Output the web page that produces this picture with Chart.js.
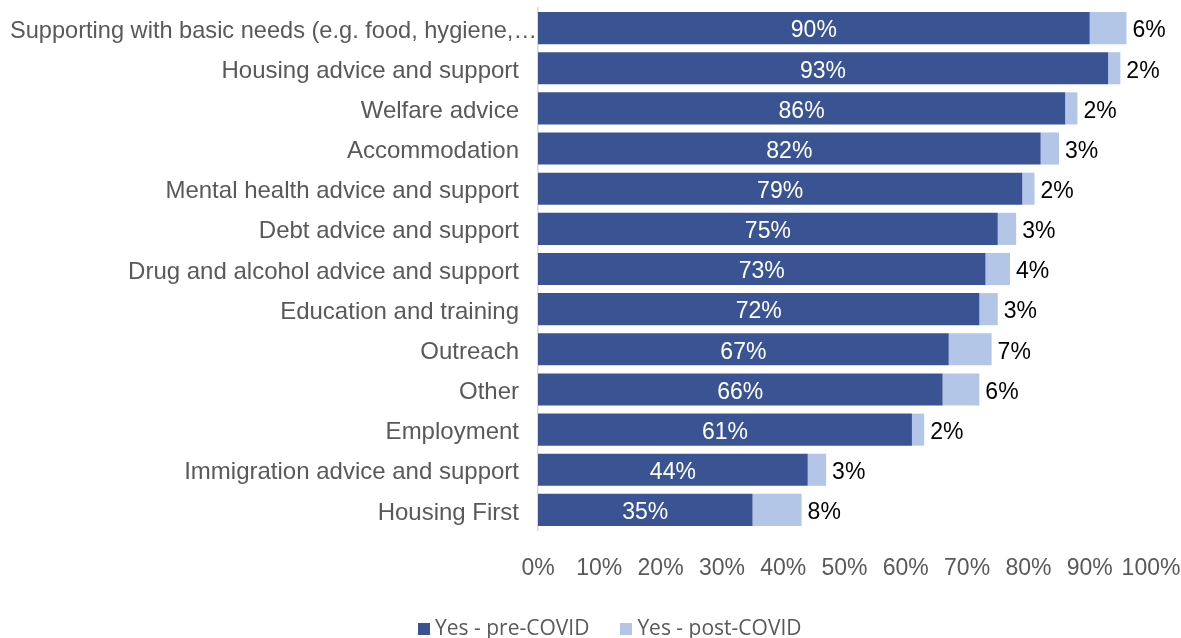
<!DOCTYPE html>
<html>
<head>
<meta charset="utf-8">
<script src="https://cdn.jsdelivr.net/npm/chart.js@4/dist/chart.umd.min.js"></script>
<style>
  html, body { margin: 0; padding: 0; background: #fff; }
  #wrap { position: relative; width: 1181px; height: 638px; overflow: hidden; }
  #chart { position: absolute; left: 0; top: 0; }
  .legend { position: absolute; left: 418px; top: 613px; font: 21px "Open Sans", sans-serif; color: #595959; white-space: nowrap; line-height: 28px; }
  .legend .item { display: inline-block; margin-right: 31px; }
  .legend .sw { display: inline-block; width: 12px; height: 12px; margin-right: 5px; vertical-align: 0px; }
</style>
</head>
<body>
<div id="wrap">
  <canvas id="chart" width="1181" height="638"></canvas>
  <div class="legend">
    <span class="item"><span class="sw" style="background:#3a5493"></span>Yes - pre-COVID</span><span class="item"><span class="sw" style="background:#b4c6e7"></span>Yes - post-COVID</span>
  </div>
</div>
<script>
(function () {
  'use strict';

  var categories = [
    'Supporting with basic needs (e.g. food, hygiene,\u2026',
    'Housing advice and support',
    'Welfare advice',
    'Accommodation',
    'Mental health advice and support',
    'Debt advice and support',
    'Drug and alcohol advice and support',
    'Education and training',
    'Outreach',
    'Other',
    'Employment',
    'Immigration advice and support',
    'Housing First'
  ];
  var preCovid = [90, 93, 86, 82, 79, 75, 73, 72, 67, 66, 61, 44, 35];
  var postCovid = [6, 2, 2, 3, 2, 3, 4, 3, 7, 6, 2, 3, 8];
  var seriesNames = ['Yes - pre-COVID', 'Yes - post-COVID'];

  var colors = {
    pre: '#3a5493',
    post: '#b4c6e7',
    text: '#595959',
    axis: '#d9d9d9'
  };

  var FONT = '"Liberation Sans", Arial, Helvetica, sans-serif';
  Chart.defaults.font.family = FONT;

  // category names, drawn by hand so the truncated first one can run up to the axis
  var categoryLabels = {
    id: 'categoryLabels',
    afterDraw: function (chart) {
      var scale = chart.scales.y;
      var ctx = chart.ctx;
      ctx.save();
      ctx.font = '24px ' + FONT;
      ctx.fillStyle = colors.text;
      ctx.textAlign = 'right';
      ctx.textBaseline = 'middle';
      categories.forEach(function (name, i) {
        var truncated = name.slice(-1) === '\u2026';
        var right = truncated ? scale.right - 1 : scale.right - 19;
        ctx.fillText(name, right, scale.getPixelForTick(i) + 3, right - 10);
      });
      ctx.restore();
    }
  };

  // value labels: white inside the dark segment, black just past the light one
  var barLabels = {
    id: 'barLabels',
    afterDatasetsDraw: function (chart) {
      var ctx = chart.ctx;
      ctx.save();
      ctx.font = '23px ' + FONT;
      ctx.textBaseline = 'middle';
      chart.getDatasetMeta(0).data.forEach(function (bar, i) {
        ctx.fillStyle = '#ffffff';
        ctx.textAlign = 'center';
        ctx.fillText(preCovid[i] + '%', (bar.x + bar.base) / 2, bar.y + 3);
      });
      chart.getDatasetMeta(1).data.forEach(function (bar, i) {
        ctx.fillStyle = '#000000';
        ctx.textAlign = 'left';
        ctx.fillText(postCovid[i] + '%', bar.x + 6, bar.y + 3);
      });
      ctx.restore();
    }
  };

  new Chart(document.getElementById('chart'), {
    type: 'bar',
    data: {
      labels: categories,
      datasets: [
        {
          label: seriesNames[0],
          data: preCovid,
          backgroundColor: colors.pre,
          barPercentage: 0.8,
          categoryPercentage: 1.0
        },
        {
          label: seriesNames[1],
          data: postCovid,
          backgroundColor: colors.post,
          barPercentage: 0.8,
          categoryPercentage: 1.0
        }
      ]
    },
    options: {
      indexAxis: 'y',
      responsive: false,
      animation: false,
      layout: { padding: { top: 8, right: 30, left: 0, bottom: 0 } },
      plugins: {
        legend: { display: false },
        tooltip: { enabled: false }
      },
      scales: {
        x: {
          stacked: true,
          min: 0,
          max: 100,
          grid: { display: false, drawTicks: false },
          border: { display: false },
          ticks: {
            stepSize: 10,
            padding: 25,
            maxRotation: 0,
            minRotation: 0,
            autoSkip: false,
            color: colors.text,
            font: { size: 23 },
            callback: function (v) { return v + '%'; }
          },
          afterFit: function (scale) {
            scale.height = 108;
            scale.paddingLeft = 0;
            scale.paddingRight = 0;
          }
        },
        y: {
          stacked: true,
          grid: { display: false, drawTicks: false },
          border: { display: true, color: colors.axis, width: 1.5 },
          ticks: { display: false },
          afterFit: function (scale) {
            scale.width = 538;
            scale.paddingTop = 0;
            scale.paddingBottom = 0;
          }
        }
      }
    },
    plugins: [barLabels, categoryLabels]
  });
})();
</script>
</body>
</html>
